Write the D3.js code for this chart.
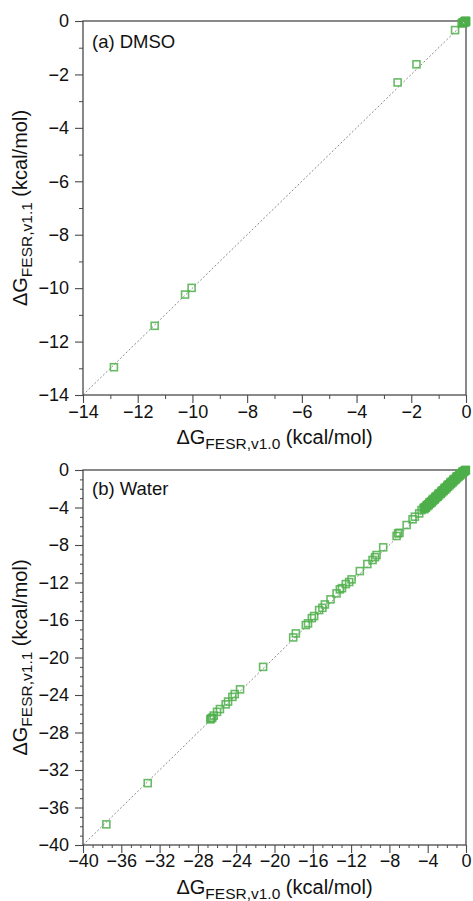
<!DOCTYPE html>
<html>
<head>
<meta charset="utf-8">
<script src="https://cdn.jsdelivr.net/npm/d3@7"></script>
<style>
  html, body { margin: 0; padding: 0; background: #fff; }
  svg { display: block; font-family: "Liberation Sans", Arial, Helvetica, sans-serif; }
</style>
</head>
<body>
<svg id="chart" width="473" height="901"></svg>
<script>
// Panel (a): DMSO — free energies from FESR v1.0 (x) vs v1.1 (y), kcal/mol
const dmsoV10 = [-12.87, -11.38, -10.27, -10.03, -2.50, -1.81, -0.40, -0.16,
                 -0.12, -0.10, -0.08, -0.06, -0.05, -0.04, -0.03, -0.02, -0.02, -0.01, 0.0, 0.0];
const dmsoV11 = [-12.96, -11.41, -10.24, -9.99, -2.30, -1.62, -0.34, -0.09,
                 -0.05, -0.08, -0.06, -0.02, -0.03, -0.05, 0.0, -0.01, -0.04, 0.0, -0.03, 0.0];

// Panel (b): Water
const waterV10 = [
  -37.56, -33.24, -21.19,
  -26.70, -26.62, -26.50, -26.35, -26.00, -25.70, -25.10, -24.85, -24.40, -24.15, -23.60,
  -18.05, -17.77, -16.73, -16.50, -16.10, -15.86, -15.34, -15.00, -14.74, -14.15, -13.52, -13.17, -12.95,
  -12.55, -12.20, -11.95, -11.09, -10.30, -9.76, -9.50, -9.34, -8.65,
  -7.25, -7.10, -6.95, -6.20, -5.58, -5.34, -4.89, -4.64,
  -4.42, -4.35, -4.28, -4.20, -4.12, -4.05, -3.97, -3.90, -3.82, -3.75, -3.66, -3.58, -3.51, -3.43,
  -3.36, -3.27, -3.20, -3.12, -3.04, -2.96, -2.88, -2.81, -2.73, -2.65, -2.57, -2.50, -2.41, -2.34,
  -2.26, -2.18, -2.10, -2.02, -1.95, -1.87, -1.80, -1.72, -1.64, -1.56, -1.48, -1.41, -1.33, -1.25,
  -1.17, -1.10, -1.02, -0.94, -0.87, -0.79, -0.71, -0.63, -0.56, -0.48, -0.40, -0.33, -0.26, -0.19,
  -0.13, -0.08, -0.04, -0.01,
  -4.38, -4.24, -4.08, -3.94, -3.79, -3.62, -3.47, -3.31, -3.16, -3.00, -2.84, -2.69, -2.53, -2.38,
  -2.22, -2.06, -1.91, -1.76, -1.60, -1.45, -1.29, -1.14, -0.98, -0.83, -0.67, -0.52, -0.37, -0.22, -0.10
];
const waterV11 = [
  -37.80, -33.40, -21.00,
  -26.60, -26.50, -26.42, -26.20, -25.80, -25.50, -25.00, -24.70, -24.20, -23.90, -23.40,
  -17.86, -17.43, -16.54, -16.36, -15.80, -15.58, -14.94, -14.70, -14.34, -13.80, -13.16, -12.73, -12.60,
  -12.17, -11.95, -11.67, -10.78, -10.03, -9.60, -9.30, -9.07, -8.25,
  -7.04, -6.76, -6.70, -5.87, -5.26, -4.98, -4.63, -4.27,
  -4.10, -4.18, -3.95, -4.02, -3.80, -3.88, -3.66, -3.74, -3.50, -3.60, -3.35, -3.45, -3.22, -3.30,
  -3.05, -3.14, -2.92, -3.00, -2.76, -2.85, -2.60, -2.70, -2.46, -2.55, -2.30, -2.40, -2.15, -2.25,
  -2.00, -2.10, -1.84, -1.94, -1.70, -1.78, -1.55, -1.63, -1.40, -1.48, -1.25, -1.33, -1.10, -1.18,
  -0.95, -1.03, -0.80, -0.88, -0.66, -0.74, -0.52, -0.60, -0.38, -0.46, -0.26, -0.32, -0.16, -0.20,
  -0.08, -0.06, -0.02, 0.00,
  -4.02, -4.05, -3.76, -3.72, -3.45, -3.44, -3.15, -3.13, -2.84, -2.81, -2.52, -2.50, -2.22, -2.19,
  -1.92, -1.88, -1.60, -1.57, -1.30, -1.27, -1.00, -0.97, -0.70, -0.67, -0.42, -0.38, -0.18, -0.12, -0.02
];

// Axis tick values
const dmsoMajor = [-14, -12, -10, -8, -6, -4, -2, 0];
const dmsoMinor = [-13, -11, -9, -7, -5, -3, -1];
const waterMajor = [-40, -36, -32, -28, -24, -20, -16, -12, -8, -4, 0];
const waterMinor = [-39, -38, -37, -35, -34, -33, -31, -30, -29, -27, -26, -25, -23, -22, -21,
                    -19, -18, -17, -15, -14, -13, -11, -10, -9, -7, -6, -5, -3, -2, -1];

const svg = d3.select("#chart");
const frameColor = "#4a4a4a";
const markColor = "#4daf4a";
const tickFont = 18;
const titleFont = 20;
const subFont = 15.5;

function panel(opt) {
  const x = d3.scaleLinear().domain(opt.domain).range([opt.left, opt.right]);
  const y = d3.scaleLinear().domain(opt.domain).range([opt.bottom, opt.top]);
  const g = svg.append("g");
  const fmt = d3.format("d");

  // minor ticks
  g.append("g").attr("transform", `translate(0,${opt.bottom})`)
    .call(d3.axisBottom(x).tickValues(opt.minor).tickSize(opt.minorLen).tickSizeOuter(0).tickFormat(""))
    .call(a => a.select(".domain").remove())
    .call(a => a.selectAll("line").attr("stroke", frameColor).attr("stroke-width", 1));
  g.append("g").attr("transform", `translate(${opt.left},0)`)
    .call(d3.axisLeft(y).tickValues(opt.minor).tickSize(opt.minorLen).tickSizeOuter(0).tickFormat(""))
    .call(a => a.select(".domain").remove())
    .call(a => a.selectAll("line").attr("stroke", frameColor).attr("stroke-width", 1));

  // major ticks with labels
  const xa = g.append("g").attr("transform", `translate(0,${opt.bottom})`)
    .call(d3.axisBottom(x).tickValues(opt.major).tickSize(8).tickPadding(opt.xPad).tickSizeOuter(0).tickFormat(fmt));
  const ya = g.append("g").attr("transform", `translate(${opt.left},0)`)
    .call(d3.axisLeft(y).tickValues(opt.major).tickSize(8).tickPadding(6).tickSizeOuter(0).tickFormat(fmt));
  [xa, ya].forEach(a => {
    a.select(".domain").remove();
    a.selectAll("line").attr("stroke", frameColor).attr("stroke-width", 1.1);
    a.selectAll("text").attr("font-size", tickFont).attr("fill", "#111")
      .attr("font-family", "'Liberation Sans', Arial, sans-serif");
  });

  // diagonal reference y = x
  g.append("line")
    .attr("x1", x(opt.domain[0])).attr("y1", y(opt.domain[0]))
    .attr("x2", x(opt.domain[1])).attr("y2", y(opt.domain[1]))
    .attr("stroke", "#8a8a8a").attr("stroke-width", 1).attr("stroke-dasharray", "2,2");

  // frame
  g.append("rect")
    .attr("x", opt.left).attr("y", opt.top)
    .attr("width", opt.right - opt.left).attr("height", opt.bottom - opt.top)
    .attr("fill", "none").attr("stroke", frameColor).attr("stroke-width", 1.3);

  // points
  const s = 7;
  g.append("g").selectAll("rect").data(d3.range(opt.xs.length)).join("rect")
    .attr("x", i => x(opt.xs[i]) - s / 2)
    .attr("y", i => y(opt.ys[i]) - s / 2)
    .attr("width", s).attr("height", s)
    .attr("fill", "none").attr("stroke", markColor)
    .attr("stroke-width", 1.6).attr("stroke-opacity", 0.85);

  // panel label
  g.append("text").attr("x", opt.left + 9).attr("y", opt.top + opt.labelDy)
    .attr("font-size", 18.5).attr("fill", "#111").text(opt.label);

  // axis titles
  const cx = (opt.left + opt.right) / 2;
  const xt = g.append("text").attr("x", cx).attr("y", opt.bottom + 49)
    .attr("text-anchor", "middle").attr("font-size", titleFont).attr("fill", "#111");
  xt.append("tspan").text("ΔG");
  xt.append("tspan").attr("font-size", subFont).attr("dy", 5).text("FESR,v1.0");
  xt.append("tspan").attr("dy", -5).text(" (kcal/mol)");

  const cy = (opt.top + opt.bottom) / 2;
  const yt = g.append("text").attr("transform", `translate(27,${cy}) rotate(-90)`)
    .attr("text-anchor", "middle").attr("font-size", titleFont).attr("fill", "#111");
  yt.append("tspan").text("ΔG");
  yt.append("tspan").attr("font-size", subFont).attr("dy", 5).text("FESR,v1.1");
  yt.append("tspan").attr("dy", -5).text(" (kcal/mol)");
}

panel({
  domain: [-14, 0], left: 83, right: 466, top: 21, bottom: 395,
  major: dmsoMajor, minor: dmsoMinor, minorLen: 4, xPad: 2,
  xs: dmsoV10, ys: dmsoV11, label: "(a) DMSO", labelDy: 27
});

panel({
  domain: [-40, 0], left: 83, right: 466, top: 470, bottom: 845,
  major: waterMajor, minor: waterMinor, minorLen: 3, xPad: 1,
  xs: waterV10, ys: waterV11, label: "(b) Water", labelDy: 25
});
</script>
</body>
</html>
